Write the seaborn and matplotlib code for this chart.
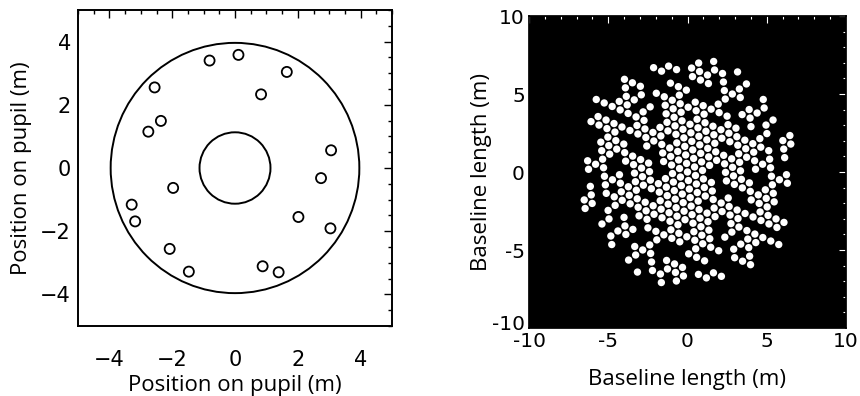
import numpy as np
import pandas as pd
import matplotlib
matplotlib.use("Agg")
import matplotlib.pyplot as plt
from matplotlib.patches import Circle
from matplotlib.ticker import MultipleLocator, FuncFormatter
from matplotlib.transforms import ScaledTranslation
import seaborn as sns

# ---- data ----
hole_x = [-0.81, 0.11, 1.65, -2.56, 0.83, -2.36, -2.76, 3.06, 2.74, -1.97,
          -3.29, -3.18, 2.02, 3.04, -2.08, -1.47, 0.88, 1.39]
hole_y = [3.40, 3.58, 3.04, 2.55, 2.33, 1.49, 1.15, 0.56, -0.32, -0.63,
          -1.16, -1.69, -1.55, -1.91, -2.56, -3.28, -3.11, -3.30]
hole_radius = 0.16          # m
outer_radius = 3.96         # m
inner_radius = 1.13         # m
uv_spacing = 0.55           # m, sampling grid of the uv plane
uv_angle = -24.0            # deg, orientation of that grid
uv_support = 0.36           # m, support radius around each baseline

pupil_ticks = [-4, -2, 0, 2, 4]
uv_ticks = [-10, -5, 0, 5, 10]

# ---- baselines (pairwise hole separations) ----
hx = np.array(hole_x)
hy = np.array(hole_y)
bx = (hx[:, None] - hx[None, :]).ravel()
by = (hy[:, None] - hy[None, :]).ravel()

t = np.deg2rad(uv_angle)
a1 = uv_spacing * np.array([np.cos(t), np.sin(t)])
a2 = uv_spacing * np.array([np.cos(t + np.pi / 3), np.sin(t + np.pi / 3)])
ii, jj = np.meshgrid(np.arange(-25, 26), np.arange(-25, 26))
gx = (ii * a1[0] + jj * a2[0]).ravel()
gy = (ii * a1[1] + jj * a2[1]).ravel()
d = np.hypot(gx[:, None] - bx[None, :], gy[:, None] - by[None, :]).min(axis=1)
keep = d <= uv_support
uv = pd.DataFrame({"u": gx[keep], "v": gy[keep]})
holes = pd.DataFrame({"x": hole_x, "y": hole_y})

# ---- figure ----
sns.set_theme(style="white")
plt.rcParams["font.family"] = ["DejaVu Sans"]
plt.rcParams.update({"text.color": "black", "axes.labelcolor": "black",
                     "xtick.color": "black", "ytick.color": "black"})
label_font = ["Open Sans", "DejaVu Sans"]

fig = plt.figure(figsize=(8.6, 3.96), dpi=100)
ax1 = fig.add_axes([78 / 860, 1 - 326 / 396, 314 / 860, 316 / 396])
ax2 = fig.add_axes([529 / 860, 1 - 328 / 396, 317 / 860, 312 / 396])

# left: pupil
ax1.add_patch(Circle((0, 0), outer_radius, fill=False, ec="black", lw=1.4))
ax1.add_patch(Circle((0, 0), inner_radius, fill=False, ec="black", lw=1.4))
for x, y in zip(holes["x"], holes["y"]):
    ax1.add_patch(Circle((x, y), hole_radius, fill=False, ec="black", lw=1.3))
ax1.set_xlim(-5, 5)
ax1.set_ylim(-5, 5)
ax1.set_xticks(pupil_ticks)
ax1.set_yticks(pupil_ticks)
ax1.xaxis.set_minor_locator(MultipleLocator(0.5))
ax1.yaxis.set_minor_locator(MultipleLocator(0.5))
ax1.tick_params(which="both", direction="in", top=True, right=True,
                color="black", labelcolor="black", width=1.0)
ax1.tick_params(which="major", length=6, labelsize=15)
ax1.tick_params(which="minor", length=3)
ax1.tick_params(axis="x", which="major", pad=17)
ax1.tick_params(axis="y", which="major", pad=5)
ax1.set_xlabel("Position on pupil (m)", fontsize=16, labelpad=4,
               family=label_font, color="black")
ax1.set_ylabel("Position on pupil (m)", fontsize=16, labelpad=6,
               family=label_font, color="black")
for s in ax1.spines.values():
    s.set_color("black")
    s.set_linewidth(1.4)

# right: uv coverage
ax2.set_facecolor("black")
sns.scatterplot(data=uv, x="u", y="v", ax=ax2, color="white", s=28,
                edgecolor="none", linewidth=0, legend=False)
ax2.set_xlim(-10, 10)
ax2.set_ylim(-10, 10)
ax2.set_xticks(uv_ticks)
ax2.set_yticks(uv_ticks)
fmt = FuncFormatter(lambda v, p: f"{v:g}")
ax2.xaxis.set_major_formatter(fmt)
ax2.yaxis.set_major_formatter(fmt)
ax2.xaxis.set_minor_locator(MultipleLocator(1))
ax2.yaxis.set_minor_locator(MultipleLocator(1))
ax2.tick_params(which="both", direction="in", top=True, right=True,
                color="white", labelcolor="black", width=0.8)
ax2.tick_params(which="major", length=5, labelsize=14.5)
ax2.tick_params(axis="x", which="major", pad=3)
ax2.tick_params(axis="y", which="major", pad=3)
ax2.tick_params(which="minor", length=2.5)
ax2.set_xlabel("Baseline length (m)", fontsize=16, labelpad=13,
               family=label_font, color="black")
ax2.set_ylabel("Baseline length (m)", fontsize=16, labelpad=0,
               family=label_font, color="black")
for s in ax2.spines.values():
    s.set_color("black")

fig.canvas.draw()
ylab = ax2.yaxis.get_major_ticks()[0].label1
ylab.set_transform(ylab.get_transform()
                   + ScaledTranslation(0, 4 / 72, fig.dpi_scale_trans))

fig.savefig("out.png", dpi=100, facecolor="white")
